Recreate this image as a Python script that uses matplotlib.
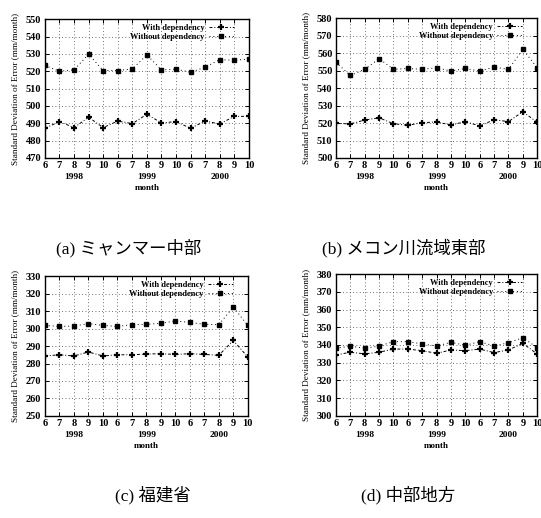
import matplotlib
matplotlib.use('Agg')
import matplotlib.pyplot as plt

plt.rcParams['font.family'] = ['Liberation Serif', 'Noto Sans CJK JP']
plt.rcParams['font.weight'] = 'bold'

x_labels = ['6', '7', '8', '9', '10', '6', '7', '8', '9', '10', '6', '7', '8', '9', '10']
years = ['1998', '1999', '2000']
year_pos = [2, 7, 12]

a_with = [487.1, 491.0, 487.5, 493.5, 487.5, 491.3, 489.8, 495.2, 490.2, 491.0, 487.1, 491.3, 489.6, 494.0, 494.0]
a_without = [523.3, 520.0, 520.8, 529.8, 520.4, 520.4, 521.3, 529.4, 520.8, 521.2, 519.4, 522.3, 526.7, 526.3, 527.0]
b_with = [519.8, 519.5, 521.7, 523.0, 519.6, 518.7, 520.2, 520.6, 518.9, 520.8, 518.3, 521.9, 520.8, 526.5, 520.4]
b_without = [554.7, 547.2, 550.7, 556.8, 550.7, 551.2, 550.7, 551.6, 549.7, 551.2, 549.7, 552.0, 550.7, 562.1, 551.6]
c_with = [284.3, 285.0, 284.3, 286.6, 284.3, 285.0, 285.0, 285.4, 285.6, 285.2, 285.6, 285.2, 284.7, 293.2, 283.7]
c_without = [301.8, 301.2, 301.4, 302.8, 301.8, 301.2, 302.2, 302.4, 303.0, 304.3, 303.5, 302.4, 302.2, 312.3, 301.8]
d_with = [334.4, 335.9, 335.0, 335.9, 337.7, 337.7, 336.8, 335.3, 337.2, 336.8, 337.7, 335.7, 337.2, 340.9, 334.9]
d_without = [338.1, 339.4, 338.1, 339.4, 341.9, 341.9, 340.6, 339.4, 341.5, 339.8, 341.9, 339.4, 341.3, 344.1, 338.5]

captions = ['(a) ミャンマー中部', '(b) メコン川流域東部', '(c) 福建省', '(d) 中部地方']

panels = [
    # rect, data with, data without, ylim, caption pos
    ([0.083, 0.695, 0.377, 0.268], a_with, a_without, (470, 550), (0.237, 0.521)),
    ([0.621, 0.695, 0.372, 0.270], b_with, b_without, (500, 580), (0.747, 0.521)),
    ([0.083, 0.197, 0.375, 0.270], c_with, c_without, (250, 330), (0.283, 0.044)),
    ([0.621, 0.197, 0.372, 0.274], d_with, d_without, (300, 380), (0.754, 0.044)),
]

fig = plt.figure(figsize=(5.41, 5.18), dpi=100)

for i, (rect, ywith, ywithout, ylim, cap) in enumerate(panels):
    ax = fig.add_axes(rect)
    x = list(range(len(x_labels)))
    ax.plot(x, ywith, color='black', lw=0.7, linestyle=(0, (3, 2, 1, 2)),
            marker='+', ms=5, mew=1.6, label='With dependency')
    ax.plot(x, ywithout, color='black', lw=0.7, linestyle=(0, (1, 3)),
            marker='s', ms=3, label='Without dependency')

    ax.set_xlim(0, len(x_labels) - 1)
    ax.set_ylim(*ylim)
    ax.set_xticks(x)
    ax.set_xticklabels(x_labels, fontsize=7.5)
    ax.set_yticks(range(ylim[0], ylim[1] + 1, 10))
    ax.tick_params(axis='y', labelsize=7.5)
    ax.tick_params(direction='in', length=3, width=0.7, pad=2.5,
                   top=True, right=True)
    ax.grid(True, color='0.25', linestyle=(0, (1, 3)), lw=0.6)
    for s in ax.spines.values():
        s.set_linewidth(1.0)

    for yr, p in zip(years, year_pos):
        ax.annotate(yr, xy=(p, 0), xycoords=ax.get_xaxis_transform(),
                    xytext=(0, -14), textcoords='offset points',
                    ha='center', va='center', fontsize=6.8)
    ax.annotate('month', xy=(0.5, 0), xycoords='axes fraction',
                xytext=(0, -21.8), textcoords='offset points',
                ha='center', va='center', fontsize=6.5)
    ax.set_ylabel('Standard Deviation of Error (mm/month)', fontsize=6.6)
    ax.yaxis.set_label_coords(-26 / (rect[2] * 541), 0.5)

    ax.legend(loc='upper right', bbox_to_anchor=(1 - 10 / (rect[2] * 541), 1),
              frameon=False, markerfirst=False,
              fontsize=6, handlelength=3, borderaxespad=0.2,
              labelspacing=0.15, handletextpad=0.5)

    fig.text(cap[0], cap[1], captions[i], ha='center', va='center',
             fontsize=12.5, fontweight='normal')

fig.savefig('out.png', dpi=100)
